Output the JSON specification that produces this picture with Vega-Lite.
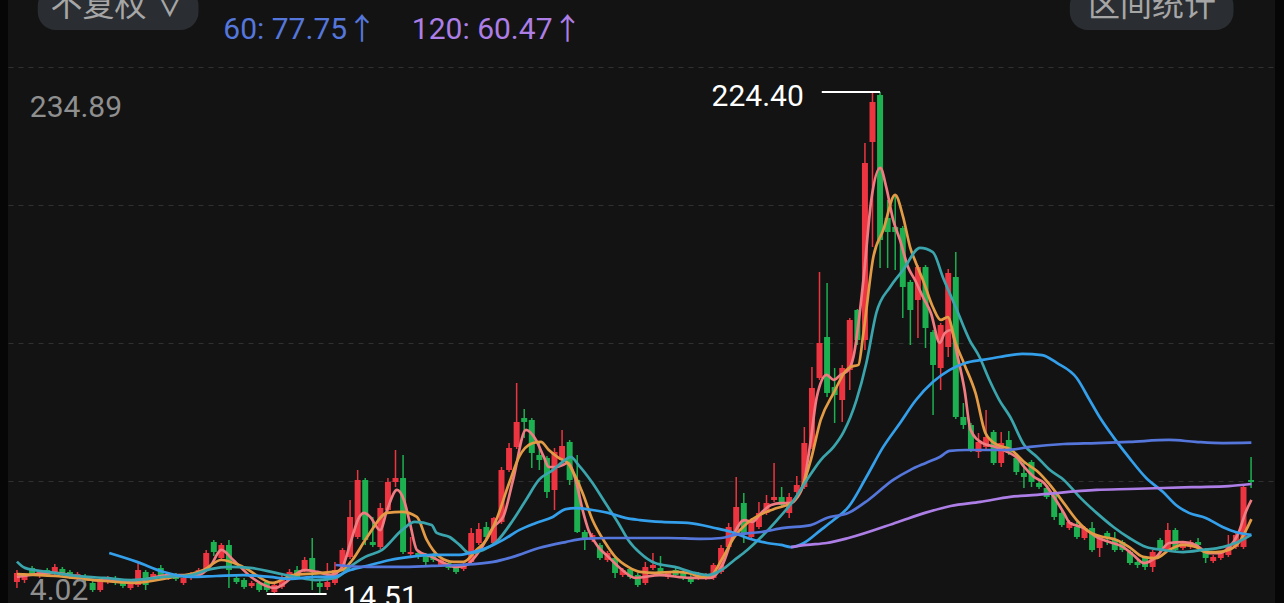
{
"$schema":"https://vega.github.io/schema/vega-lite/v6.json",
"width":1267,"height":603,
"autosize":{"type":"none"},
"padding":{"left":8,"right":9,"top":0,"bottom":0},
"background":"#060606",
"config":{"view":{"fill":"#131313","stroke":null},"font":"Roboto, 'Noto Sans CJK SC'",
 "axisY":{"labels":false,"ticks":false,"domain":false,"grid":true,"gridDash":[5,5],"gridColor":"#303030","gridWidth":1.2}},
"datasets":{
"k":[
{"i":0,"o":19.49,"h":24.51,"l":16.98,"c":23.26},{"i":1,"o":20.33,"h":23.26,"l":19.08,"c":22.42},{"i":2,"o":25.35,"h":26.19,"l":22.0,"c":22.84},{"i":3,"o":22.0,"h":24.51,"l":21.17,"c":23.68},{"i":4,"o":24.51,"h":25.35,"l":21.59,"c":22.42},{"i":5,"o":23.68,"h":27.02,"l":22.42,"c":25.77},{"i":6,"o":24.93,"h":25.77,"l":21.59,"c":22.42},{"i":7,"o":23.68,"h":24.51,"l":20.75,"c":21.59},{"i":8,"o":21.17,"h":23.68,"l":20.33,"c":22.84},{"i":9,"o":22.0,"h":22.84,"l":19.49,"c":20.33},
{"i":10,"o":19.08,"h":20.33,"l":15.31,"c":16.15},{"i":11,"o":16.15,"h":21.17,"l":15.31,"c":19.91},{"i":12,"o":19.49,"h":22.0,"l":18.66,"c":21.17},{"i":13,"o":21.17,"h":22.0,"l":18.24,"c":19.08},{"i":14,"o":19.91,"h":20.75,"l":16.98,"c":17.82},{"i":15,"o":16.98,"h":20.33,"l":16.15,"c":19.49},{"i":16,"o":18.24,"h":27.44,"l":17.4,"c":24.51},{"i":17,"o":23.68,"h":24.51,"l":16.15,"c":18.24},{"i":18,"o":20.33,"h":23.68,"l":19.49,"c":22.84},{"i":19,"o":25.35,"h":26.6,"l":20.33,"c":21.59},
{"i":20,"o":21.17,"h":23.68,"l":20.33,"c":22.84},{"i":21,"o":22.42,"h":23.26,"l":19.91,"c":20.75},{"i":22,"o":19.08,"h":22.0,"l":18.24,"c":21.17},{"i":23,"o":21.17,"h":23.68,"l":20.33,"c":22.84},{"i":24,"o":22.84,"h":25.35,"l":22.0,"c":24.51},{"i":25,"o":24.51,"h":32.88,"l":23.68,"c":31.62},{"i":26,"o":36.22,"h":37.06,"l":30.37,"c":32.04},{"i":27,"o":29.53,"h":35.81,"l":28.7,"c":34.97},{"i":28,"o":34.97,"h":37.06,"l":16.98,"c":24.51},{"i":29,"o":21.17,"h":22.0,"l":18.66,"c":19.49},
{"i":30,"o":20.33,"h":21.17,"l":16.57,"c":17.4},{"i":31,"o":17.82,"h":19.91,"l":16.98,"c":19.08},{"i":32,"o":19.08,"h":19.91,"l":15.31,"c":16.15},{"i":33,"o":19.49,"h":20.33,"l":15.31,"c":16.15},{"i":34,"o":15.31,"h":19.08,"l":14.51,"c":18.24},{"i":35,"o":17.4,"h":22.42,"l":16.57,"c":21.59},{"i":36,"o":21.17,"h":24.93,"l":20.33,"c":23.68},{"i":37,"o":24.51,"h":26.19,"l":20.75,"c":21.59},{"i":38,"o":24.51,"h":29.95,"l":23.68,"c":28.7},{"i":39,"o":29.53,"h":37.9,"l":16.15,"c":24.51},
{"i":40,"o":19.08,"h":19.91,"l":14.89,"c":17.4},{"i":41,"o":17.4,"h":27.44,"l":16.15,"c":19.49},{"i":42,"o":19.08,"h":27.86,"l":18.24,"c":24.51},{"i":43,"o":25.77,"h":33.71,"l":24.93,"c":32.88},{"i":44,"o":29.95,"h":53.79,"l":29.11,"c":46.68},{"i":45,"o":38.32,"h":66.34,"l":37.48,"c":62.15},{"i":46,"o":62.15,"h":62.99,"l":34.97,"c":37.06},{"i":47,"o":36.22,"h":46.68,"l":34.13,"c":34.97},{"i":48,"o":34.13,"h":52.54,"l":33.29,"c":50.44},{"i":49,"o":49.61,"h":62.99,"l":48.77,"c":61.32},
{"i":50,"o":61.32,"h":74.7,"l":59.23,"c":62.99},{"i":51,"o":62.99,"h":72.61,"l":31.2,"c":32.04},{"i":52,"o":31.2,"h":38.32,"l":30.37,"c":32.04},{"i":53,"o":31.62,"h":32.46,"l":29.11,"c":29.95},{"i":54,"o":30.79,"h":31.62,"l":26.6,"c":27.86},{"i":55,"o":30.79,"h":31.62,"l":27.86,"c":28.7},{"i":56,"o":26.6,"h":29.53,"l":25.77,"c":28.7},{"i":57,"o":27.44,"h":28.28,"l":24.51,"c":25.35},{"i":58,"o":25.77,"h":26.6,"l":22.84,"c":23.68},{"i":59,"o":24.93,"h":27.44,"l":24.09,"c":26.6},
{"i":60,"o":27.86,"h":42.08,"l":27.02,"c":39.99},{"i":61,"o":35.81,"h":44.17,"l":34.97,"c":41.66},{"i":62,"o":42.5,"h":44.59,"l":37.48,"c":38.32},{"i":63,"o":35.81,"h":46.68,"l":34.97,"c":46.26},{"i":64,"o":44.59,"h":67.59,"l":43.75,"c":66.34},{"i":65,"o":66.34,"h":77.63,"l":65.5,"c":75.54},{"i":66,"o":75.96,"h":102.72,"l":75.12,"c":86.41},{"i":67,"o":88.09,"h":91.85,"l":79.72,"c":86.41},{"i":68,"o":87.25,"h":88.09,"l":67.17,"c":73.45},{"i":69,"o":72.61,"h":78.05,"l":66.34,"c":70.52},
{"i":70,"o":71.36,"h":72.19,"l":54.63,"c":57.13},{"i":71,"o":57.97,"h":75.54,"l":49.61,"c":73.87},{"i":72,"o":70.52,"h":83.07,"l":69.68,"c":76.37},{"i":73,"o":78.05,"h":78.88,"l":60.06,"c":62.15},{"i":74,"o":62.15,"h":72.61,"l":39.99,"c":40.41},{"i":75,"o":40.41,"h":41.24,"l":32.88,"c":37.9},{"i":76,"o":37.06,"h":39.99,"l":36.22,"c":39.15},{"i":77,"o":34.97,"h":35.81,"l":28.7,"c":29.53},{"i":78,"o":28.7,"h":32.46,"l":27.86,"c":31.62},{"i":79,"o":29.53,"h":30.37,"l":21.17,"c":23.26},
{"i":80,"o":22.42,"h":25.35,"l":21.59,"c":24.51},{"i":81,"o":24.93,"h":25.77,"l":20.75,"c":21.59},{"i":82,"o":22.42,"h":23.26,"l":17.4,"c":18.24},{"i":83,"o":19.08,"h":27.86,"l":18.24,"c":25.77},{"i":84,"o":25.35,"h":31.62,"l":24.51,"c":26.6},{"i":85,"o":25.35,"h":30.37,"l":22.84,"c":23.68},{"i":86,"o":21.59,"h":24.09,"l":20.75,"c":23.26},{"i":87,"o":24.51,"h":25.35,"l":21.59,"c":22.42},{"i":88,"o":23.68,"h":24.51,"l":20.33,"c":21.17},{"i":89,"o":21.59,"h":22.42,"l":18.66,"c":19.49},
{"i":90,"o":21.17,"h":23.68,"l":20.33,"c":22.42},{"i":91,"o":21.17,"h":23.26,"l":20.33,"c":22.42},{"i":92,"o":21.17,"h":27.44,"l":20.33,"c":26.6},{"i":93,"o":23.68,"h":34.97,"l":22.84,"c":33.71},{"i":94,"o":34.13,"h":44.17,"l":33.29,"c":42.5},{"i":95,"o":39.99,"h":63.41,"l":39.15,"c":50.86},{"i":96,"o":52.54,"h":56.72,"l":35.81,"c":39.99},{"i":97,"o":38.32,"h":46.26,"l":37.48,"c":45.43},{"i":98,"o":42.5,"h":52.95,"l":41.66,"c":48.35},{"i":99,"o":48.35,"h":55.88,"l":47.52,"c":52.54},
{"i":100,"o":53.79,"h":69.26,"l":52.95,"c":55.05},{"i":101,"o":55.05,"h":59.23,"l":50.86,"c":51.7},{"i":102,"o":48.35,"h":56.72,"l":46.26,"c":55.05},{"i":103,"o":57.13,"h":63.83,"l":56.3,"c":60.06},{"i":104,"o":59.23,"h":84.32,"l":58.39,"c":77.63},{"i":105,"o":75.96,"h":109.42,"l":75.12,"c":100.63},{"i":106,"o":104.82,"h":149.15,"l":103.98,"c":119.45},{"i":107,"o":121.96,"h":144.55,"l":96.87,"c":98.54},{"i":108,"o":101.05,"h":109.0,"l":85.99,"c":97.71},{"i":109,"o":95.61,"h":110.25,"l":86.41,"c":109.0},
{"i":110,"o":108.16,"h":129.91,"l":99.8,"c":129.07},{"i":111,"o":133.26,"h":133.67,"l":118.62,"c":120.71},{"i":112,"o":120.71,"h":203.1,"l":116.53,"c":194.74},{"i":113,"o":203.52,"h":224.01,"l":159.6,"c":220.25},{"i":114,"o":223.18,"h":224.4,"l":150.82,"c":162.53},{"i":115,"o":171.73,"h":179.26,"l":150.82,"c":165.88},{"i":116,"o":167.97,"h":181.35,"l":149.99,"c":165.88},{"i":117,"o":167.55,"h":168.39,"l":129.91,"c":142.88},{"i":118,"o":144.97,"h":145.8,"l":118.62,"c":133.26},{"i":119,"o":137.44,"h":152.08,"l":121.54,"c":151.24},
{"i":120,"o":151.24,"h":152.08,"l":117.36,"c":125.73},{"i":121,"o":124.05,"h":124.89,"l":89.34,"c":110.25},{"i":122,"o":109.0,"h":127.82,"l":99.8,"c":126.98},{"i":123,"o":117.78,"h":150.4,"l":113.6,"c":148.73},{"i":124,"o":147.06,"h":157.51,"l":87.67,"c":88.5},{"i":125,"o":88.5,"h":94.36,"l":83.48,"c":85.16},{"i":126,"o":85.16,"h":85.99,"l":73.87,"c":74.7},{"i":127,"o":73.87,"h":81.81,"l":71.36,"c":78.05},{"i":128,"o":75.96,"h":91.43,"l":75.12,"c":80.14},{"i":129,"o":82.23,"h":83.07,"l":68.43,"c":69.26},
{"i":130,"o":69.26,"h":82.23,"l":67.59,"c":77.63},{"i":131,"o":78.88,"h":82.65,"l":72.61,"c":73.45},{"i":132,"o":71.36,"h":72.19,"l":64.25,"c":65.5},{"i":133,"o":65.08,"h":69.26,"l":58.81,"c":63.41},{"i":134,"o":69.68,"h":70.52,"l":59.23,"c":61.32},{"i":135,"o":60.9,"h":61.74,"l":58.39,"c":59.23},{"i":136,"o":58.81,"h":59.64,"l":54.21,"c":55.05},{"i":137,"o":56.72,"h":57.55,"l":45.43,"c":46.68},{"i":138,"o":48.35,"h":49.19,"l":42.5,"c":43.33},{"i":139,"o":42.08,"h":45.43,"l":41.24,"c":44.59},
{"i":140,"o":42.5,"h":44.59,"l":37.48,"c":38.32},{"i":141,"o":37.9,"h":42.92,"l":37.06,"c":42.08},{"i":142,"o":42.08,"h":44.59,"l":32.04,"c":32.88},{"i":143,"o":33.71,"h":38.74,"l":29.95,"c":37.9},{"i":144,"o":39.99,"h":40.83,"l":34.97,"c":38.32},{"i":145,"o":37.06,"h":40.41,"l":32.04,"c":32.88},{"i":146,"o":36.22,"h":37.06,"l":32.04,"c":32.88},{"i":147,"o":32.04,"h":32.88,"l":26.6,"c":27.44},{"i":148,"o":27.86,"h":28.7,"l":25.35,"c":26.6},{"i":149,"o":29.53,"h":30.37,"l":24.51,"c":25.77},
{"i":150,"o":25.77,"h":32.88,"l":23.68,"c":32.04},{"i":151,"o":37.06,"h":37.9,"l":32.04,"c":32.88},{"i":152,"o":32.88,"h":44.17,"l":32.04,"c":41.24},{"i":153,"o":41.24,"h":42.08,"l":32.04,"c":32.88},{"i":154,"o":33.71,"h":36.64,"l":32.88,"c":35.81},{"i":155,"o":34.13,"h":37.06,"l":33.29,"c":36.22},{"i":156,"o":36.22,"h":37.9,"l":34.13,"c":34.97},{"i":157,"o":32.88,"h":33.71,"l":27.44,"c":29.53},{"i":158,"o":28.28,"h":30.79,"l":27.44,"c":29.95},{"i":159,"o":29.53,"h":32.46,"l":28.7,"c":31.62},
{"i":160,"o":30.79,"h":39.15,"l":29.95,"c":34.97},{"i":161,"o":34.13,"h":39.99,"l":33.29,"c":39.15},{"i":162,"o":34.13,"h":60.06,"l":33.29,"c":59.23},{"i":163,"o":62.15,"h":71.78,"l":58.81,"c":61.32}
],
"ma":[
{"s":"MA5","i":0,"v":21.6},{"s":"MA5","i":4.98,"v":23.3},{"s":"MA5","i":10.22,"v":20.3},{"s":"MA5","i":15.47,"v":19.9},{"s":"MA5","i":20.05,"v":22.4},{"s":"MA5","i":23.98,"v":22.4},{"s":"MA5","i":25.56,"v":26.2},{"s":"MA5","i":27.0,"v":32.9},{"s":"MA5","i":28.57,"v":28.7},{"s":"MA5","i":30.93,"v":21.6},{"s":"MA5","i":34.08,"v":17.0},{"s":"MA5","i":38.01,"v":24.5},{"s":"MA5","i":39.71,"v":23.7},{"s":"MA5","i":41.42,"v":22.4},{"s":"MA5","i":42.99,"v":25.8},{"s":"MA5","i":44.04,"v":35.8},{"s":"MA5","i":45.22,"v":46.7},{"s":"MA5","i":45.87,"v":48.4},{"s":"MA5","i":46.66,"v":46.7},{"s":"MA5","i":47.97,"v":41.2},{"s":"MA5","i":48.89,"v":49.6},{"s":"MA5","i":50.2,"v":58.0},{"s":"MA5","i":51.11,"v":53.8},{"s":"MA5","i":51.9,"v":44.2},{"s":"MA5","i":52.82,"v":32.9},{"s":"MA5","i":54.78,"v":30.0},{"s":"MA5","i":56.09,"v":27.9},{"s":"MA5","i":58.06,"v":25.8},{"s":"MA5","i":59.37,"v":26.6},{"s":"MA5","i":61.34,"v":33.7},{"s":"MA5","i":62.91,"v":42.5},{"s":"MA5","i":64.22,"v":46.7},{"s":"MA5","i":65.53,"v":62.2},{"s":"MA5","i":67.23,"v":83.1},{"s":"MA5","i":68.55,"v":78.9},{"s":"MA5","i":69.59,"v":71.8},{"s":"MA5","i":70.25,"v":67.6},{"s":"MA5","i":71.17,"v":67.6},{"s":"MA5","i":72.08,"v":68.4},{"s":"MA5","i":72.74,"v":69.3},{"s":"MA5","i":73.79,"v":62.2},{"s":"MA5","i":74.71,"v":49.6},{"s":"MA5","i":75.49,"v":41.2},{"s":"MA5","i":76.8,"v":34.1},{"s":"MA5","i":78.11,"v":30.0},{"s":"MA5","i":79.95,"v":24.5},{"s":"MA5","i":81.65,"v":21.2},{"s":"MA5","i":84.93,"v":22.4},{"s":"MA5","i":88.86,"v":21.2},{"s":"MA5","i":91.48,"v":21.2},{"s":"MA5","i":93.18,"v":26.6},{"s":"MA5","i":94.76,"v":40.0},{"s":"MA5","i":96.07,"v":45.4},{"s":"MA5","i":97.12,"v":44.6},{"s":"MA5","i":98.3,"v":48.4},{"s":"MA5","i":99.61,"v":51.7},{"s":"MA5","i":100.92,"v":52.5},{"s":"MA5","i":102.23,"v":52.5},{"s":"MA5","i":103.01,"v":54.6},{"s":"MA5","i":103.93,"v":60.9},{"s":"MA5","i":104.85,"v":78.9},{"s":"MA5","i":105.64,"v":96.9},{"s":"MA5","i":106.95,"v":106.1},{"s":"MA5","i":107.86,"v":104.0},{"s":"MA5","i":108.78,"v":106.1},{"s":"MA5","i":109.83,"v":108.2},{"s":"MA5","i":110.48,"v":113.6},{"s":"MA5","i":111.8,"v":145.8},{"s":"MA5","i":112.84,"v":179.3},{"s":"MA5","i":114.02,"v":192.7},{"s":"MA5","i":114.81,"v":184.7},{"s":"MA5","i":115.73,"v":170.9},{"s":"MA5","i":116.64,"v":162.5},{"s":"MA5","i":117.69,"v":151.2},{"s":"MA5","i":118.61,"v":145.8},{"s":"MA5","i":119.66,"v":138.7},{"s":"MA5","i":120.71,"v":132.0},{"s":"MA5","i":121.89,"v":119.5},{"s":"MA5","i":122.54,"v":123.6},{"s":"MA5","i":123.33,"v":124.9},{"s":"MA5","i":124.25,"v":113.6},{"s":"MA5","i":125.16,"v":99.8},{"s":"MA5","i":125.95,"v":83.1},{"s":"MA5","i":127.52,"v":77.6},{"s":"MA5","i":129.23,"v":76.0},{"s":"MA5","i":130.8,"v":73.9},{"s":"MA5","i":132.11,"v":71.4},{"s":"MA5","i":133.03,"v":67.6},{"s":"MA5","i":134.34,"v":63.4},{"s":"MA5","i":135.65,"v":60.9},{"s":"MA5","i":136.96,"v":55.0},{"s":"MA5","i":138.27,"v":48.4},{"s":"MA5","i":139.06,"v":44.2},{"s":"MA5","i":140.89,"v":42.1},{"s":"MA5","i":142.6,"v":38.3},{"s":"MA5","i":144.3,"v":36.2},{"s":"MA5","i":146.13,"v":34.1},{"s":"MA5","i":147.44,"v":30.8},{"s":"MA5","i":148.89,"v":27.4},{"s":"MA5","i":150.46,"v":29.9},{"s":"MA5","i":152.16,"v":35.8},{"s":"MA5","i":154.0,"v":36.2},{"s":"MA5","i":155.7,"v":35.0},{"s":"MA5","i":157.4,"v":31.6},{"s":"MA5","i":158.72,"v":31.6},{"s":"MA5","i":160.03,"v":33.7},{"s":"MA5","i":161.34,"v":40.0},{"s":"MA5","i":162.25,"v":48.4},{"s":"MA5","i":163.04,"v":53.8},
{"s":"MA10","i":0,"v":22.8},{"s":"MA10","i":4.98,"v":22.0},{"s":"MA10","i":10.22,"v":20.3},{"s":"MA10","i":15.47,"v":19.1},{"s":"MA10","i":20.05,"v":21.2},{"s":"MA10","i":24.64,"v":24.5},{"s":"MA10","i":27.0,"v":28.7},{"s":"MA10","i":29.88,"v":25.8},{"s":"MA10","i":33.81,"v":19.1},{"s":"MA10","i":36.43,"v":22.4},{"s":"MA10","i":40.37,"v":23.3},{"s":"MA10","i":42.99,"v":24.5},{"s":"MA10","i":44.3,"v":28.7},{"s":"MA10","i":46.26,"v":38.3},{"s":"MA10","i":48.89,"v":48.4},{"s":"MA10","i":50.85,"v":48.8},{"s":"MA10","i":52.82,"v":46.7},{"s":"MA10","i":54.13,"v":37.1},{"s":"MA10","i":55.83,"v":30.0},{"s":"MA10","i":57.67,"v":27.9},{"s":"MA10","i":58.98,"v":27.9},{"s":"MA10","i":60.68,"v":32.9},{"s":"MA10","i":61.99,"v":37.1},{"s":"MA10","i":63.3,"v":45.4},{"s":"MA10","i":65.01,"v":60.9},{"s":"MA10","i":66.32,"v":71.8},{"s":"MA10","i":68.15,"v":77.6},{"s":"MA10","i":69.2,"v":78.1},{"s":"MA10","i":70.25,"v":74.7},{"s":"MA10","i":71.56,"v":71.4},{"s":"MA10","i":72.74,"v":69.3},{"s":"MA10","i":73.53,"v":65.1},{"s":"MA10","i":74.71,"v":56.7},{"s":"MA10","i":76.02,"v":45.4},{"s":"MA10","i":77.72,"v":35.8},{"s":"MA10","i":79.03,"v":30.0},{"s":"MA10","i":80.73,"v":25.8},{"s":"MA10","i":82.31,"v":23.7},{"s":"MA10","i":84.27,"v":23.3},{"s":"MA10","i":86.89,"v":23.7},{"s":"MA10","i":88.6,"v":23.3},{"s":"MA10","i":90.43,"v":21.6},{"s":"MA10","i":91.74,"v":22.4},{"s":"MA10","i":93.05,"v":28.7},{"s":"MA10","i":94.76,"v":38.3},{"s":"MA10","i":96.46,"v":44.2},{"s":"MA10","i":98.69,"v":48.4},{"s":"MA10","i":100.39,"v":50.4},{"s":"MA10","i":102.23,"v":52.5},{"s":"MA10","i":103.54,"v":58.0},{"s":"MA10","i":104.85,"v":70.5},{"s":"MA10","i":106.16,"v":87.3},{"s":"MA10","i":107.86,"v":98.5},{"s":"MA10","i":109.57,"v":108.2},{"s":"MA10","i":110.09,"v":109.4},{"s":"MA10","i":111.14,"v":110.3},{"s":"MA10","i":111.8,"v":123.6},{"s":"MA10","i":113.11,"v":155.4},{"s":"MA10","i":114.42,"v":166.7},{"s":"MA10","i":115.99,"v":181.4},{"s":"MA10","i":117.04,"v":172.2},{"s":"MA10","i":117.96,"v":159.6},{"s":"MA10","i":118.74,"v":152.9},{"s":"MA10","i":119.66,"v":145.8},{"s":"MA10","i":120.97,"v":134.5},{"s":"MA10","i":122.02,"v":129.1},{"s":"MA10","i":122.94,"v":130.3},{"s":"MA10","i":123.98,"v":119.5},{"s":"MA10","i":125.16,"v":110.3},{"s":"MA10","i":126.61,"v":98.5},{"s":"MA10","i":127.92,"v":81.8},{"s":"MA10","i":129.49,"v":76.8},{"s":"MA10","i":131.19,"v":75.1},{"s":"MA10","i":133.03,"v":69.7},{"s":"MA10","i":134.73,"v":65.9},{"s":"MA10","i":136.44,"v":60.1},{"s":"MA10","i":138.27,"v":52.5},{"s":"MA10","i":139.97,"v":45.4},{"s":"MA10","i":141.68,"v":40.4},{"s":"MA10","i":143.51,"v":38.3},{"s":"MA10","i":145.22,"v":37.1},{"s":"MA10","i":146.92,"v":34.1},{"s":"MA10","i":148.76,"v":30.0},{"s":"MA10","i":150.46,"v":29.5},{"s":"MA10","i":152.16,"v":32.9},{"s":"MA10","i":154.0,"v":35.0},{"s":"MA10","i":155.7,"v":34.1},{"s":"MA10","i":157.01,"v":32.0},{"s":"MA10","i":158.32,"v":32.0},{"s":"MA10","i":160.03,"v":32.9},{"s":"MA10","i":161.34,"v":35.8},{"s":"MA10","i":163.04,"v":45.8},
{"s":"MA20","i":0,"v":28.0},{"s":"MA20","i":1.05,"v":25.4},{"s":"MA20","i":4.06,"v":23.7},{"s":"MA20","i":9.31,"v":21.6},{"s":"MA20","i":11.53,"v":21.2},{"s":"MA20","i":15.07,"v":20.3},{"s":"MA20","i":19.4,"v":21.6},{"s":"MA20","i":22.94,"v":22.4},{"s":"MA20","i":25.56,"v":24.9},{"s":"MA20","i":28.18,"v":25.8},{"s":"MA20","i":30.8,"v":25.4},{"s":"MA20","i":34.21,"v":23.3},{"s":"MA20","i":36.83,"v":21.6},{"s":"MA20","i":39.45,"v":20.3},{"s":"MA20","i":42.07,"v":21.2},{"s":"MA20","i":44.3,"v":26.6},{"s":"MA20","i":46.0,"v":30.0},{"s":"MA20","i":48.23,"v":32.9},{"s":"MA20","i":50.85,"v":41.2},{"s":"MA20","i":52.56,"v":44.6},{"s":"MA20","i":54.78,"v":43.3},{"s":"MA20","i":55.44,"v":40.0},{"s":"MA20","i":57.14,"v":38.3},{"s":"MA20","i":58.45,"v":35.0},{"s":"MA20","i":59.76,"v":31.6},{"s":"MA20","i":61.6,"v":32.9},{"s":"MA20","i":63.3,"v":36.2},{"s":"MA20","i":65.53,"v":45.4},{"s":"MA20","i":67.23,"v":53.8},{"s":"MA20","i":68.94,"v":62.2},{"s":"MA20","i":70.77,"v":66.3},{"s":"MA20","i":72.08,"v":69.7},{"s":"MA20","i":73.13,"v":71.8},{"s":"MA20","i":74.18,"v":68.4},{"s":"MA20","i":76.02,"v":60.9},{"s":"MA20","i":77.72,"v":52.5},{"s":"MA20","i":79.42,"v":44.2},{"s":"MA20","i":80.73,"v":37.1},{"s":"MA20","i":82.31,"v":31.6},{"s":"MA20","i":84.27,"v":27.4},{"s":"MA20","i":86.89,"v":25.8},{"s":"MA20","i":89.52,"v":23.3},{"s":"MA20","i":91.22,"v":22.4},{"s":"MA20","i":93.05,"v":24.5},{"s":"MA20","i":94.76,"v":28.7},{"s":"MA20","i":96.46,"v":32.9},{"s":"MA20","i":98.3,"v":38.3},{"s":"MA20","i":100.39,"v":45.4},{"s":"MA20","i":102.62,"v":53.8},{"s":"MA20","i":104.33,"v":62.2},{"s":"MA20","i":106.16,"v":70.5},{"s":"MA20","i":107.86,"v":76.0},{"s":"MA20","i":109.17,"v":82.2},{"s":"MA20","i":110.88,"v":95.6},{"s":"MA20","i":112.19,"v":111.1},{"s":"MA20","i":113.5,"v":132.0},{"s":"MA20","i":115.33,"v":142.9},{"s":"MA20","i":117.04,"v":150.0},{"s":"MA20","i":119.27,"v":159.2},{"s":"MA20","i":120.97,"v":157.5},{"s":"MA20","i":122.28,"v":147.1},{"s":"MA20","i":123.98,"v":134.5},{"s":"MA20","i":125.82,"v":120.7},{"s":"MA20","i":127.13,"v":113.6},{"s":"MA20","i":128.44,"v":104.0},{"s":"MA20","i":129.75,"v":95.6},{"s":"MA20","i":131.19,"v":88.5},{"s":"MA20","i":133.03,"v":76.8},{"s":"MA20","i":134.73,"v":71.8},{"s":"MA20","i":136.44,"v":66.3},{"s":"MA20","i":138.27,"v":62.2},{"s":"MA20","i":140.37,"v":55.0},{"s":"MA20","i":142.6,"v":48.4},{"s":"MA20","i":144.82,"v":42.5},{"s":"MA20","i":146.92,"v":37.9},{"s":"MA20","i":149.15,"v":34.1},{"s":"MA20","i":151.38,"v":32.9},{"s":"MA20","i":154.0,"v":32.0},{"s":"MA20","i":156.62,"v":32.9},{"s":"MA20","i":159.24,"v":34.1},{"s":"MA20","i":160.94,"v":35.8},{"s":"MA20","i":163.04,"v":39.2},
{"s":"MA30","i":12.19,"v":31.6},{"s":"MA30","i":15.86,"v":27.9},{"s":"MA30","i":19.4,"v":23.7},{"s":"MA30","i":22.94,"v":21.6},{"s":"MA30","i":26.34,"v":22.0},{"s":"MA30","i":29.88,"v":22.4},{"s":"MA30","i":33.42,"v":21.6},{"s":"MA30","i":36.04,"v":20.8},{"s":"MA30","i":39.45,"v":21.6},{"s":"MA30","i":41.68,"v":21.6},{"s":"MA30","i":44.04,"v":24.5},{"s":"MA30","i":46.66,"v":26.6},{"s":"MA30","i":49.28,"v":28.7},{"s":"MA30","i":51.9,"v":30.0},{"s":"MA30","i":54.78,"v":30.8},{"s":"MA30","i":58.45,"v":30.8},{"s":"MA30","i":59.76,"v":31.6},{"s":"MA30","i":61.99,"v":33.7},{"s":"MA30","i":64.22,"v":37.1},{"s":"MA30","i":66.32,"v":41.2},{"s":"MA30","i":68.55,"v":44.2},{"s":"MA30","i":70.77,"v":46.7},{"s":"MA30","i":72.48,"v":50.0},{"s":"MA30","i":73.79,"v":50.4},{"s":"MA30","i":76.02,"v":49.6},{"s":"MA30","i":78.11,"v":48.4},{"s":"MA30","i":80.34,"v":46.3},{"s":"MA30","i":82.31,"v":45.4},{"s":"MA30","i":85.19,"v":44.6},{"s":"MA30","i":88.6,"v":44.2},{"s":"MA30","i":92.14,"v":42.1},{"s":"MA30","i":94.36,"v":40.4},{"s":"MA30","i":96.46,"v":37.9},{"s":"MA30","i":99.08,"v":35.8},{"s":"MA30","i":100.92,"v":35.0},{"s":"MA30","i":102.23,"v":34.1},{"s":"MA30","i":103.93,"v":35.8},{"s":"MA30","i":106.16,"v":41.2},{"s":"MA30","i":107.86,"v":45.4},{"s":"MA30","i":109.83,"v":50.9},{"s":"MA30","i":112.19,"v":63.4},{"s":"MA30","i":114.42,"v":76.0},{"s":"MA30","i":116.64,"v":86.0},{"s":"MA30","i":118.74,"v":95.6},{"s":"MA30","i":120.97,"v":103.1},{"s":"MA30","i":123.2,"v":108.2},{"s":"MA30","i":125.29,"v":111.1},{"s":"MA30","i":127.52,"v":112.4},{"s":"MA30","i":129.75,"v":113.6},{"s":"MA30","i":132.77,"v":114.9},{"s":"MA30","i":135.39,"v":114.4},{"s":"MA30","i":137.35,"v":111.1},{"s":"MA30","i":139.97,"v":104.8},{"s":"MA30","i":141.68,"v":95.6},{"s":"MA30","i":142.99,"v":88.5},{"s":"MA30","i":144.82,"v":80.1},{"s":"MA30","i":146.92,"v":71.4},{"s":"MA30","i":149.15,"v":63.0},{"s":"MA30","i":151.38,"v":57.1},{"s":"MA30","i":153.08,"v":51.7},{"s":"MA30","i":154.78,"v":48.4},{"s":"MA30","i":157.01,"v":46.3},{"s":"MA30","i":159.24,"v":42.5},{"s":"MA30","i":160.94,"v":40.4},{"s":"MA30","i":163.04,"v":39.2},
{"s":"MA60","i":42.07,"v":26.6},{"s":"MA60","i":46.26,"v":25.8},{"s":"MA60","i":50.59,"v":25.8},{"s":"MA60","i":54.78,"v":26.2},{"s":"MA60","i":58.45,"v":26.6},{"s":"MA60","i":62.91,"v":27.9},{"s":"MA60","i":65.53,"v":30.0},{"s":"MA60","i":68.94,"v":33.7},{"s":"MA60","i":72.48,"v":36.2},{"s":"MA60","i":74.71,"v":37.5},{"s":"MA60","i":78.11,"v":37.9},{"s":"MA60","i":82.31,"v":37.9},{"s":"MA60","i":85.98,"v":37.9},{"s":"MA60","i":90.43,"v":37.5},{"s":"MA60","i":93.05,"v":37.9},{"s":"MA60","i":94.76,"v":39.2},{"s":"MA60","i":98.3,"v":40.4},{"s":"MA60","i":101.31,"v":42.1},{"s":"MA60","i":104.85,"v":43.3},{"s":"MA60","i":106.95,"v":46.3},{"s":"MA60","i":109.83,"v":48.4},{"s":"MA60","i":112.45,"v":53.8},{"s":"MA60","i":115.73,"v":62.2},{"s":"MA60","i":117.96,"v":66.3},{"s":"MA60","i":120.05,"v":69.3},{"s":"MA60","i":121.89,"v":71.8},{"s":"MA60","i":123.2,"v":74.3},{"s":"MA60","i":125.29,"v":74.7},{"s":"MA60","i":127.52,"v":74.7},{"s":"MA60","i":130.8,"v":74.7},{"s":"MA60","i":133.81,"v":76.0},{"s":"MA60","i":138.27,"v":77.2},{"s":"MA60","i":142.6,"v":77.6},{"s":"MA60","i":146.92,"v":78.1},{"s":"MA60","i":152.16,"v":78.9},{"s":"MA60","i":155.7,"v":78.1},{"s":"MA60","i":159.24,"v":77.6},{"s":"MA60","i":163.04,"v":77.75},
{"s":"MA120","i":102.23,"v":34.1},{"s":"MA120","i":104.33,"v":35.0},{"s":"MA120","i":106.95,"v":35.8},{"s":"MA120","i":109.83,"v":37.9},{"s":"MA120","i":116.38,"v":44.6},{"s":"MA120","i":119.92,"v":48.4},{"s":"MA120","i":123.33,"v":51.3},{"s":"MA120","i":127.26,"v":53.0},{"s":"MA120","i":131.19,"v":55.1},{"s":"MA120","i":134.73,"v":55.9},{"s":"MA120","i":137.35,"v":56.7},{"s":"MA120","i":142.6,"v":58.0},{"s":"MA120","i":146.92,"v":58.4},{"s":"MA120","i":151.38,"v":58.8},{"s":"MA120","i":155.7,"v":59.2},{"s":"MA120","i":160.03,"v":59.6},{"s":"MA120","i":163.04,"v":60.47}
],
"marks":[{"i":106.3,"i2":114,"p":224.4},{"i":33.0,"i2":40.9,"p":14.51}],
"axislabels":[{"t":"234.89","i":1.7,"p":213.98},{"t":"4.02","i":1.7,"p":11.97}],
"hi":[{"t":"224.40","i":103.93,"p":218.58}],
"lo":[{"t":"14.51","i":42.99,"p":9.04}],
"legend":[{"s":"MA60","t":"60: 77.75↑","i":27.26,"p":250.4},{"s":"MA120","t":"120: 60.47↑","i":52.16,"p":250.4}],
"buttons":[{"i":2.75,"i2":23.98,"p":268,"p2":250.4,"t":"不复权 ∨","c":13.37,"pc":260.4},{"i":139.06,"i2":160.68,"p":268,"p2":250.4,"t":"区间统计","c":149.9,"pc":260.2}]
},
"layer":[
{"data":{"name":"k"},"mark":{"type":"rule","strokeWidth":1.5},
 "encoding":{
  "x":{"field":"i","type":"quantitative","scale":{"domain":[-0.52,165.5],"nice":false,"zero":false},"axis":null},
  "y":{"field":"l","type":"quantitative","title":null,"scale":{"domain":[10.71,262.91],"nice":false,"zero":false},
       "axis":{"values":[234.89,177.17,119.45,61.74],"grid":true,"labels":false,"ticks":false,"domain":false,"title":null}},
  "y2":{"field":"h"},
  "color":{"condition":{"test":"datum.c >= datum.o","value":"#ec3540"},"value":"#1cb050"}}},
{"data":{"name":"k"},"mark":{"type":"bar","size":6,"orient":"vertical"},
 "encoding":{
  "x":{"field":"i","type":"quantitative","axis":null},
  "y":{"field":"o","type":"quantitative","title":null},
  "y2":{"field":"c"},
  "color":{"condition":{"test":"datum.c >= datum.o","value":"#ec3540"},"value":"#1cb050"}}},
{"data":{"name":"ma"},"mark":{"type":"line","strokeWidth":2.7,"interpolate":"monotone"},
 "encoding":{
  "x":{"field":"i","type":"quantitative","axis":null},
  "y":{"field":"v","type":"quantitative","title":null},
  "color":{"field":"s","type":"nominal","legend":null,
   "scale":{"domain":["MA5","MA10","MA20","MA30","MA60","MA120"],"range":["#f07c82","#e39b45","#3aa5ad","#34a0ec","#5577dc","#ad7ee6"]}}}},
{"data":{"name":"marks"},"mark":{"type":"rule","color":"#ffffff","strokeWidth":2},
 "encoding":{
  "x":{"field":"i","type":"quantitative","axis":null},"x2":{"field":"i2"},
  "y":{"field":"p","type":"quantitative","title":null}}},
{"data":{"name":"axislabels"},"mark":{"type":"text","align":"left","baseline":"alphabetic","fontSize":30,"color":"#8f8f8f"},
 "encoding":{"x":{"field":"i","type":"quantitative","axis":null},"y":{"field":"p","type":"quantitative","title":null},"text":{"field":"t"}}},
{"data":{"name":"hi"},"mark":{"type":"text","align":"right","baseline":"alphabetic","fontSize":30,"color":"#ffffff"},
 "encoding":{"x":{"field":"i","type":"quantitative","axis":null},"y":{"field":"p","type":"quantitative","title":null},"text":{"field":"t"}}},
{"data":{"name":"lo"},"mark":{"type":"text","align":"left","baseline":"alphabetic","fontSize":30,"color":"#ffffff"},
 "encoding":{"x":{"field":"i","type":"quantitative","axis":null},"y":{"field":"p","type":"quantitative","title":null},"text":{"field":"t"}}},
{"data":{"name":"legend"},"mark":{"type":"text","align":"left","baseline":"middle","fontSize":30},
 "encoding":{"x":{"field":"i","type":"quantitative","axis":null},"y":{"field":"p","type":"quantitative","title":null},"text":{"field":"t"},
  "color":{"field":"s","type":"nominal","legend":null}}},
{"data":{"name":"buttons"},"mark":{"type":"rect","color":"#2a2d31","cornerRadius":18},
 "encoding":{"x":{"field":"i","type":"quantitative","axis":null},"x2":{"field":"i2"},"y":{"field":"p","type":"quantitative","title":null},"y2":{"field":"p2"}}},
{"data":{"name":"buttons"},"mark":{"type":"text","align":"center","baseline":"middle","fontSize":32,"font":"Noto Sans CJK SC","color":"#a6a6a6"},
 "encoding":{"x":{"field":"c","type":"quantitative","axis":null},"y":{"field":"pc","type":"quantitative","title":null},"text":{"field":"t"}}}
]
}
